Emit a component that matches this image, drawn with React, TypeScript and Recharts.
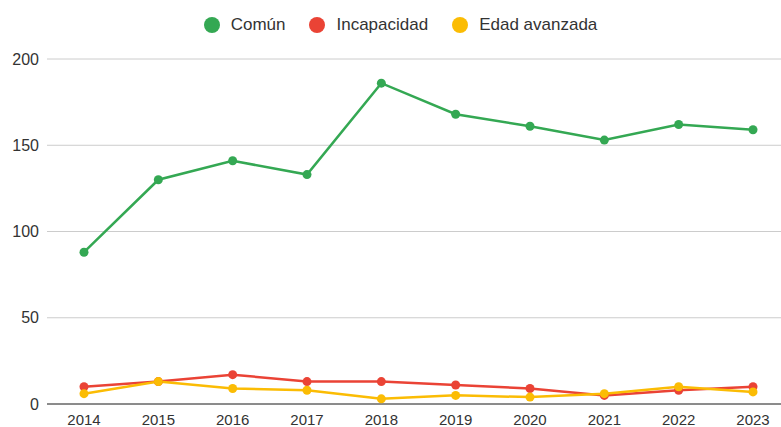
import {
  CartesianGrid,
  Legend,
  Line,
  LineChart,
  XAxis,
  YAxis,
} from "recharts";

const years = ["2014", "2015", "2016", "2017", "2018", "2019", "2020", "2021", "2022", "2023"];
const comun = [88, 130, 141, 133, 186, 168, 161, 153, 162, 159];
const incapacidad = [10, 13, 17, 13, 13, 11, 9, 5, 8, 10];
const edadAvanzada = [6, 13, 9, 8, 3, 5, 4, 6, 10, 7];
const yTicks = [0, 50, 100, 150, 200];

const series = [
  { key: "comun", name: "Común", color: "#34a853" },
  { key: "incapacidad", name: "Incapacidad", color: "#ea4335" },
  { key: "edad", name: "Edad avanzada", color: "#fbbc04" },
];

const data = years.map((year, i) => ({
  year,
  comun: comun[i],
  incapacidad: incapacidad[i],
  edad: edadAvanzada[i],
}));

const FONT = '"Liberation Sans", Arial, sans-serif';

function LegendContent() {
  return (
    <div
      style={{
        height: 46,
        display: "flex",
        justifyContent: "center",
        alignItems: "flex-start",
        fontFamily: FONT,
        fontSize: 17,
        color: "#333",
        gap: 24,
        paddingLeft: 20,
      }}
    >
      {series.map((s) => (
        <div key={s.key} style={{ display: "flex", alignItems: "center", height: 24 }}>
          <span
            style={{
              width: 16,
              height: 16,
              borderRadius: 8,
              background: s.color,
              display: "inline-block",
              marginRight: 11,
            }}
          />
          <span>{s.name}</span>
        </div>
      ))}
    </div>
  );
}

export default function App() {
  return (
    <div style={{ position: "absolute", left: 0, top: 0, width: 781, height: 427, background: "#fff" }}>
      <LineChart
        width={781}
        height={427}
        data={data}
        margin={{ top: 13, right: 0, bottom: 0, left: 0 }}
      >
        <Legend verticalAlign="top" align="center" content={<LegendContent />} />
        <CartesianGrid stroke="#cccccc" vertical={false} />
        <XAxis
          dataKey="year"
          height={23}
          padding={{ left: 37, right: 28 }}
          tickLine={false}
          tickMargin={4}
          axisLine={{ stroke: "#333", strokeWidth: 1 }}
          tick={{ fill: "#333", fontSize: 15, fontFamily: FONT }}
        />
        <YAxis
          width={47}
          domain={[0, 200]}
          ticks={yTicks}
          axisLine={false}
          tickLine={false}
          tick={{ fill: "#333", fontSize: 16, fontFamily: FONT }}
        />
        {series.map((s) => (
          <Line
            key={s.key}
            type="linear"
            dataKey={s.key}
            name={s.name}
            stroke={s.color}
            strokeWidth={2.5}
            dot={{ r: 4.5, fill: s.color, stroke: s.color, strokeWidth: 0 }}
            isAnimationActive={false}
          />
        ))}
      </LineChart>
    </div>
  );
}
